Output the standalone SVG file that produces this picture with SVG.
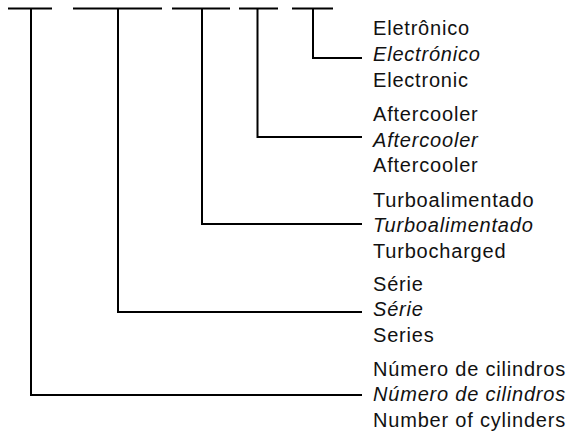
<svg xmlns="http://www.w3.org/2000/svg" width="568" height="432" viewBox="0 0 568 432">
<style>
  .ln { fill: none; stroke: #000; stroke-width: 2; stroke-linecap: butt; stroke-linejoin: miter; }
  text { font-family: "Liberation Sans", Arial, sans-serif; font-size: 20px; letter-spacing: 0.8px; fill: #111; }
  .it { font-style: italic; }
</style>
<rect width="568" height="432" fill="#fff"/>
<g id="connectors">
  <path class="ln" d="M8 8.5 H52"/>
  <path class="ln" d="M73 8.5 H162"/>
  <path class="ln" d="M172 8.5 H230"/>
  <path class="ln" d="M239 8.5 H278"/>
  <path class="ln" d="M292 8.5 H333"/>
  <path class="ln" d="M313 8.5 V58 H362"/>
  <path class="ln" d="M257.5 8.5 V137 H362"/>
  <path class="ln" d="M202 8.5 V224 H362"/>
  <path class="ln" d="M118 8.5 V312 H362"/>
  <path class="ln" d="M31 8.5 V395 H362"/>
</g>
<g id="node-electronic">
  <text x="373" y="35">Eletrônico</text>
  <text x="373" y="61" class="it">Electrónico</text>
  <text x="373" y="87">Electronic</text>
</g>
<g id="node-aftercooler">
  <text x="373" y="121">Aftercooler</text>
  <text x="373" y="147" class="it">Aftercooler</text>
  <text x="373" y="172">Aftercooler</text>
</g>
<g id="node-turbo">
  <text x="373" y="207">Turboalimentado</text>
  <text x="373" y="232" class="it">Turboalimentado</text>
  <text x="373" y="258">Turbocharged</text>
</g>
<g id="node-series">
  <text x="373" y="291">Série</text>
  <text x="373" y="316" class="it">Série</text>
  <text x="373" y="342">Series</text>
</g>
<g id="node-cylinders">
  <text x="373" y="376">Número de cilindros</text>
  <text x="373" y="401" class="it">Número de cilindros</text>
  <text x="373" y="427">Number of cylinders</text>
</g>
</svg>
